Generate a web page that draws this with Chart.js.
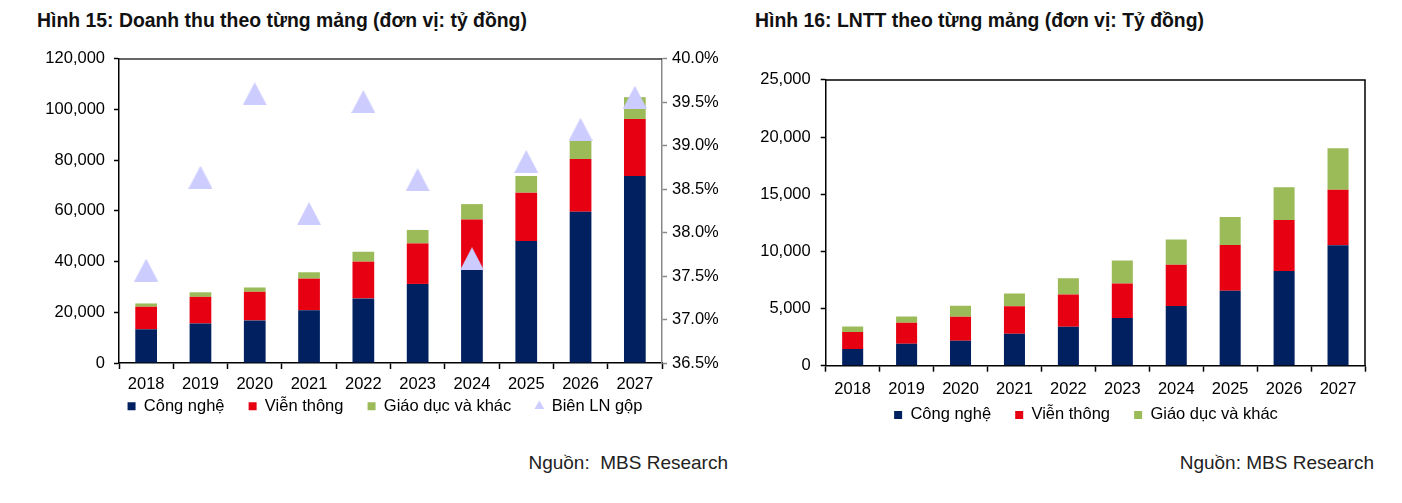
<!DOCTYPE html>
<html>
<head>
<meta charset="utf-8">
<script src="https://cdn.jsdelivr.net/npm/chart.js@4.4.1/dist/chart.umd.min.js"></script>
<style>
    body { margin: 0; background: #fff; font-family: "Liberation Sans", Arial, sans-serif; }
    .page { position: relative; width: 1402px; height: 503px; overflow: hidden; }
    .title { position: absolute; top: 11px; font-weight: bold; font-size: 19.4px; line-height: 19.4px; color: #111; white-space: nowrap; }
    .source { position: absolute; top: 453px; font-size: 19px; line-height: 19px; color: #222; white-space: pre; text-align: right; }
    .box { position: absolute; }
</style>
</head>
<body>
<div class="page">
    <div class="title" style="left:37px;">Hình 15: Doanh thu theo từng mảng (đơn vị: tỷ đồng)</div>
    <div class="title" style="left:755px;">Hình 16: LNTT theo từng mảng (đơn vị: Tỷ đồng)</div>

    <div class="box" style="left:0; top:40px; width:740px; height:380px;"><canvas id="revenueChart"></canvas></div>
    <div class="box" style="left:740px; top:60px; width:682px; height:370px;"><canvas id="profitChart"></canvas></div>

    <div class="source" style="right:674px;">Nguồn:  MBS Research</div>
    <div class="source" style="right:28px;">Nguồn: MBS Research</div>
</div>

<script>
// Categories
const years = ['2018', '2019', '2020', '2021', '2022', '2023', '2024', '2025', '2026', '2027'];

// Hình 15: Doanh thu (tỷ đồng)
const revTech = [13300, 15600, 16800, 20800, 25500, 31200, 36700, 48100, 59700, 73800];
const revTelecom = [8900, 10500, 11300, 12500, 14500, 16000, 19900, 19100, 20800, 22500];
const revEdu = [1300, 1800, 1700, 2500, 3900, 5300, 6100, 6600, 7300, 8600];
const grossMargin = [37.57, 38.64, 39.60, 38.22, 39.51, 38.61, 37.70, 38.82, 39.19, 39.56];

// Hình 16: LNTT (tỷ đồng)
const pbtTech = [1470, 1930, 2190, 2800, 3400, 4180, 5220, 6550, 8280, 10530];
const pbtTelecom = [1470, 1820, 2100, 2390, 2830, 3000, 3600, 4000, 4470, 4870];
const pbtEdu = [490, 550, 950, 1130, 1410, 2020, 2220, 2450, 2850, 3630];

const seriesNames = ['Công nghệ', 'Viễn thông', 'Giáo dục và khác', 'Biên LN gộp'];

const NAVY = '#002060';
const RED = '#e60012';
const GREEN = '#9bbb59';
const LAVENDER = '#ccccff';

const FONT = '"Liberation Sans", Arial, sans-serif';
Chart.defaults.font.family = FONT;
Chart.defaults.font.size = 16.5;
Chart.defaults.color = '#000';

// Triangle marker (centred on its bounding box, like the original)
const tri = document.createElement('canvas');
tri.width = 24;
tri.height = 23;
(function () {
    const c = tri.getContext('2d');
    c.fillStyle = LAVENDER;
    c.beginPath();
    c.moveTo(12, 0);
    c.lineTo(24, 23);
    c.lineTo(0, 23);
    c.closePath();
    c.fill();
})();

// Frame lines round the plot area
const framePlugin = {
    id: 'frame',
    afterDraw(chart, args, opts) {
        const a = chart.chartArea;
        const ctx = chart.ctx;
        ctx.save();
        ctx.strokeStyle = opts.color || '#000';
        ctx.lineWidth = 1.5;
        ctx.beginPath();
        ctx.moveTo(a.left, a.top);
        ctx.lineTo(a.right, a.top);
        if (opts.right) ctx.lineTo(a.right, a.bottom);
        ctx.stroke();
        ctx.restore();
    }
};

// legend: squares for bars, small triangle for the margin series,
// extra trailing space keeps the items apart while the row stays close to the axis
function legendLabels(chart) {
    const items = Chart.defaults.plugins.legend.labels.generateLabels(chart);
    const lastIndex = chart.data.datasets.length - 1;
    items.forEach(item => {
        const ds = chart.data.datasets[item.datasetIndex];
        item.pointStyle = ds.type === 'line' ? 'triangle' : 'rect';
        item.lineWidth = 0;
        item.strokeStyle = item.fillStyle;
        if (item.datasetIndex !== lastIndex) item.text += '\u2003 ';
    });
    return items;
}

function legendOptions() {
    return {
        position: 'bottom',
        maxHeight: 25,
        labels: {
            usePointStyle: true,
            boxWidth: 8,
            boxHeight: 8,
            padding: 3,
            color: '#000',
            font: { size: 16.5 },
            generateLabels: legendLabels,
            sort: (a, b) => a.datasetIndex - b.datasetIndex
        }
    };
}

function barSet(label, data, color, pct) {
    return {
        label: label,
        data: data,
        backgroundColor: color,
        borderWidth: 0,
        stack: 's',
        barPercentage: pct,
        categoryPercentage: 1,
        yAxisID: 'y'
    };
}

function xAxis(height, pad) {
    return {
        stacked: true,
        afterFit: scale => { scale.height = height; },
        grid: { offset: true, drawOnChartArea: false, drawTicks: true, tickLength: 6, tickWidth: 1.5, tickColor: '#000' },
        border: { color: '#000', width: 1.5 },
        ticks: { padding: pad, color: '#000', maxRotation: 0, autoSkip: false }
    };
}

// Hình 15
new Chart(document.getElementById('revenueChart'), {
    type: 'bar',
    data: {
        labels: years,
        datasets: [
            barSet(seriesNames[0], revTech, NAVY, 0.40),
            barSet(seriesNames[1], revTelecom, RED, 0.40),
            barSet(seriesNames[2], revEdu, GREEN, 0.40),
            {
                type: 'line',
                label: seriesNames[3],
                data: grossMargin,
                yAxisID: 'y1',
                showLine: false,
                order: -1,
                pointStyle: tri,
                pointRadius: 12,
                pointHoverRadius: 12,
                backgroundColor: LAVENDER,
                borderColor: LAVENDER
            }
        ]
    },
    options: {
        responsive: true,
        maintainAspectRatio: false,
        animation: false,
        layout: { autoPadding: false, padding: { left: 30, right: 0, top: 15, bottom: 0 } },
        plugins: {
            legend: legendOptions(),
            tooltip: { enabled: false },
            frame: { color: '#333', right: false }
        },
        scales: {
            x: xAxis(32, 6),
            y: {
                stacked: true,
                min: 0,
                max: 120000,
                afterFit: scale => { scale.width = 89; },
                grid: { drawOnChartArea: false, tickLength: 5, tickWidth: 1.5, tickColor: '#000' },
                border: { color: '#000', width: 1.5 },
                ticks: {
                    stepSize: 20000,
                    padding: 9,
                    color: '#000',
                    callback: v => v.toLocaleString('en-US')
                }
            },
            y1: {
                position: 'right',
                min: 36.5,
                max: 40,
                afterFit: scale => { scale.width = 78; },
                grid: { drawOnChartArea: false, tickLength: 5, tickWidth: 1.5, tickColor: '#888' },
                border: { color: '#888', width: 1.5 },
                ticks: {
                    stepSize: 0.5,
                    padding: 5,
                    color: '#000',
                    callback: v => v.toFixed(1) + '%'
                }
            }
        }
    },
    plugins: [framePlugin]
});

// Hình 16
new Chart(document.getElementById('profitChart'), {
    type: 'bar',
    data: {
        labels: years,
        datasets: [
            barSet(seriesNames[0], pbtTech, NAVY, 0.39),
            barSet(seriesNames[1], pbtTelecom, RED, 0.39),
            barSet(seriesNames[2], pbtEdu, GREEN, 0.39)
        ]
    },
    options: {
        responsive: true,
        maintainAspectRatio: false,
        animation: false,
        layout: { autoPadding: false, padding: { left: 10, right: 0, top: 16.7, bottom: 1.3 } },
        plugins: {
            legend: legendOptions(),
            tooltip: { enabled: false },
            frame: { color: '#000', right: true }
        },
        scales: {
            x: xAxis(38, 8),
            y: {
                stacked: true,
                min: 0,
                max: 25000,
                afterFit: scale => { scale.width = 75.7; },
                grid: { drawOnChartArea: false, tickLength: 5, tickWidth: 1.5, tickColor: '#000' },
                border: { color: '#000', width: 1.5 },
                ticks: {
                    stepSize: 5000,
                    padding: 10,
                    color: '#000',
                    callback: v => v.toLocaleString('en-US')
                }
            },
            // empty spacer on the right so the legend centres like the original
            spacer: {
                position: 'right',
                afterFit: scale => { scale.width = 57; },
                grid: { display: false },
                border: { display: false },
                ticks: { display: false }
            }
        }
    },
    plugins: [framePlugin]
});
</script>
</body>
</html>
